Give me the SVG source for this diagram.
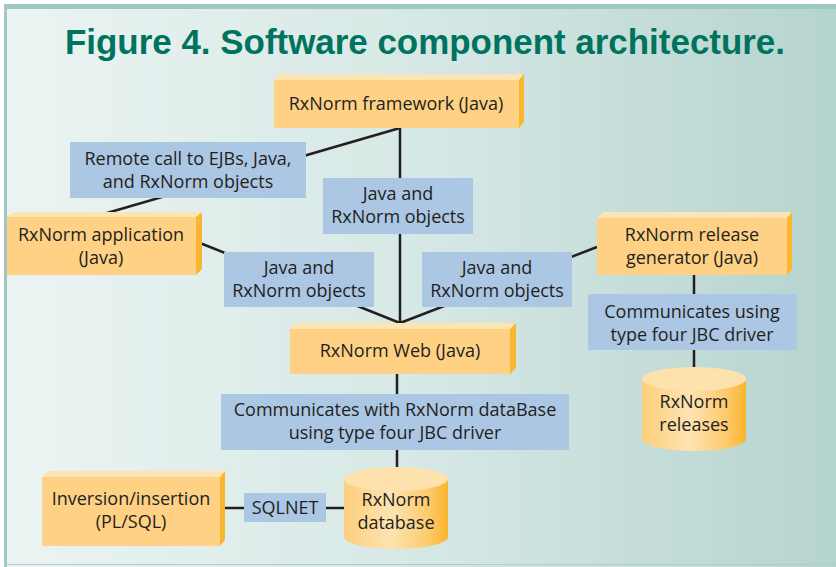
<svg xmlns="http://www.w3.org/2000/svg" width="836" height="567" viewBox="0 0 836 567">
<defs>
<linearGradient id="bg" x1="0" y1="0" x2="1" y2="0">
<stop offset="0" stop-color="#ebf4f3"/>
<stop offset="0.5" stop-color="#d6e8e5"/>
<stop offset="1" stop-color="#b6d4cf"/>
</linearGradient>
<linearGradient id="cyl" x1="0" y1="0" x2="1" y2="0">
<stop offset="0" stop-color="#fdcf7c"/>
<stop offset="0.45" stop-color="#fde3b2"/>
<stop offset="0.8" stop-color="#fdcb70"/>
<stop offset="1" stop-color="#fbb52c"/>
</linearGradient>
<style>
.front{fill:#fed184}
.top{fill:#fde4b3}
.side{fill:#fbb631}
.lbl{fill:#abc7e4}
.t{font-family:"Open Sans","Liberation Sans",sans-serif;font-size:18px;fill:#231f20;text-anchor:middle}
.c{stroke:#231f20;stroke-width:2.5;fill:none}
.cy{fill:url(#cyl)}
.cyt{fill:#fde2ae}
</style>
</defs>
<rect x="0" y="0" width="836" height="567" fill="#ffffff"/>
<rect x="4" y="4" width="832" height="563" fill="url(#bg)"/>
<rect x="4" y="4" width="832" height="5" fill="#9dc9c1"/>
<rect x="4" y="4" width="3" height="563" fill="#9dc9c1"/>
<rect x="4" y="564" width="832" height="1" fill="#a9cfc8"/>
<text x="425" y="54" font-family="'Liberation Sans',Arial,sans-serif" font-weight="bold" font-size="35" fill="#00735f" text-anchor="middle" textLength="720" lengthAdjust="spacingAndGlyphs">Figure 4. Software component architecture.</text>

<g id="connectors">
<line class="c" x1="400" y1="128" x2="107" y2="213"/>
<line class="c" x1="400" y1="128" x2="400" y2="323"/>
<line class="c" x1="200" y1="243" x2="400" y2="323"/>
<line class="c" x1="597" y1="247" x2="400" y2="323"/>
<line class="c" x1="694" y1="275" x2="694" y2="379"/>
<line class="c" x1="397" y1="374" x2="397" y2="467"/>
<line class="c" x1="220" y1="508" x2="344" y2="508"/>
</g>

<g id="framework">
<polygon class="top" points="274,80 280,74 524,74 519,80"/>
<polygon class="side" points="519,80 524,74 524,122 519,128"/>
<rect class="front" x="274" y="80" width="245" height="48"/>
<text class="t" x="396" y="110">RxNorm framework (Java)</text>
</g>

<g id="remote-label">
<rect class="lbl" x="70" y="142" width="236" height="56"/>
<text class="t" x="188" y="165">Remote call to EJBs, Java,</text>
<text class="t" x="188" y="188">and RxNorm objects</text>
</g>

<g id="center-label">
<rect class="lbl" x="323" y="178" width="150" height="56"/>
<text class="t" x="398" y="200">Java and</text>
<text class="t" x="398" y="223">RxNorm objects</text>
</g>

<g id="application">
<polygon class="top" points="7,217 13,212 202,212 196,217"/>
<polygon class="side" points="196,217 202,212 202,269 196,275"/>
<rect class="front" x="7" y="217" width="189" height="58"/>
<text class="t" x="101" y="241">RxNorm application</text>
<text class="t" x="101" y="264">(Java)</text>
</g>

<g id="left-label">
<rect class="lbl" x="224" y="252" width="150" height="55"/>
<text class="t" x="299" y="274">Java and</text>
<text class="t" x="299" y="297">RxNorm objects</text>
</g>

<g id="right-label">
<rect class="lbl" x="422" y="252" width="150" height="55"/>
<text class="t" x="497" y="274">Java and</text>
<text class="t" x="497" y="297">RxNorm objects</text>
</g>

<g id="release-generator">
<polygon class="top" points="597,218 603,212 792,212 787,218"/>
<polygon class="side" points="787,218 792,212 792,269 787,275"/>
<rect class="front" x="597" y="218" width="190" height="57"/>
<text class="t" x="692" y="241">RxNorm release</text>
<text class="t" x="692" y="264">generator (Java)</text>
</g>

<g id="jbc-label">
<rect class="lbl" x="588" y="294" width="209" height="56"/>
<text class="t" x="692" y="318">Communicates using</text>
<text class="t" x="692" y="341">type four JBC driver</text>
</g>

<g id="web">
<polygon class="top" points="290,329 296,323 516,323 510,329"/>
<polygon class="side" points="510,329 516,323 516,368 510,374"/>
<rect class="front" x="290" y="329" width="220" height="45"/>
<text class="t" x="400" y="357">RxNorm Web (Java)</text>
</g>

<g id="db-label">
<rect class="lbl" x="221" y="394" width="348" height="56"/>
<text class="t" x="395" y="416">Communicates with RxNorm dataBase</text>
<text class="t" x="395" y="439">using type four JBC driver</text>
</g>

<g id="releases">
<path class="cy" d="M642,379 L642,439 A52,12 0 0 0 746,439 L746,379 Z"/>
<ellipse class="cyt" cx="694" cy="379" rx="52" ry="12"/>
<text class="t" x="694" y="408">RxNorm</text>
<text class="t" x="694" y="431">releases</text>
</g>

<g id="database">
<path class="cy" d="M344,479 L344,537 A52,12 0 0 0 448,537 L448,479 Z"/>
<ellipse class="cyt" cx="396" cy="479" rx="52" ry="12"/>
<text class="t" x="396" y="506">RxNorm</text>
<text class="t" x="396" y="529">database</text>
</g>

<g id="inversion">
<polygon class="top" points="42,477 48,471 225,471 220,477"/>
<polygon class="side" points="220,477 225,471 225,540 220,546"/>
<rect class="front" x="42" y="477" width="178" height="69"/>
<text class="t" x="131" y="505">Inversion/insertion</text>
<text class="t" x="131" y="528">(PL/SQL)</text>
</g>

<g id="sqlnet-label">
<rect class="lbl" x="244" y="493" width="82" height="29"/>
<text class="t" x="285" y="514">SQLNET</text>
</g>
</svg>
